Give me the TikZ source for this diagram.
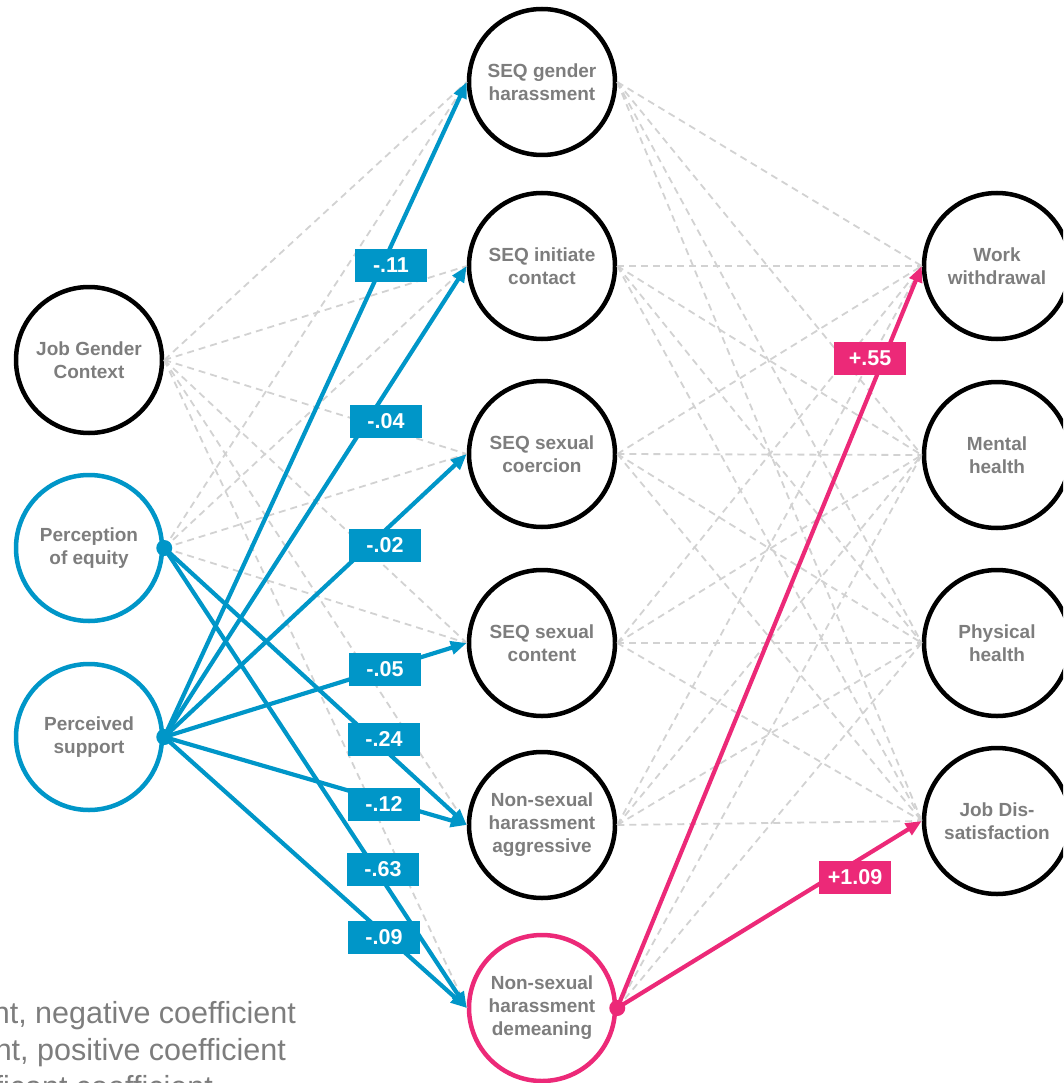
\documentclass[tikz,border=0pt]{standalone}
\usepackage{fontspec}
\setmainfont{Liberation Sans}
\usetikzlibrary{arrows.meta}

\definecolor{sigblue}{RGB}{0,150,200}
\definecolor{sigpink}{RGB}{236,41,120}
\definecolor{nsgray}{RGB}{210,210,210}
\definecolor{txtgray}{RGB}{125,125,125}

\tikzset{
	var/.style={circle,draw=black,line width=4.5pt,minimum size=146pt,inner sep=0pt,align=center,text=txtgray,font=\bfseries\fontsize{19}{23}\selectfont},
	ns/.style={draw=nsgray,line width=1.8pt,dash pattern=on 7pt off 5pt},
	negpath/.style={draw=sigblue,line width=4.2pt,->},
	pospath/.style={draw=sigpink,line width=4.2pt,->},
	coef/.style={fill=sigblue,text=white,font=\bfseries\fontsize{21.5}{21.5}\selectfont,minimum width=72pt,minimum height=33pt,inner sep=0pt},
	legend/.style={text=txtgray,font=\fontsize{30.5}{36}\selectfont,inner sep=0pt},
}

\begin{document}
\begin{tikzpicture}[x=1pt,y=-1pt,>={Triangle[length=16pt,width=13pt]},line join=round]
			\useasboundingbox (0,0) rectangle (1063,1083);
			\clip (0,0) rectangle (1063,1083);
			
			% predictors
			\node[var] (jgc) at (89,360) {Job Gender\\Context};
			\node[var,draw=sigblue] (peq) at (89,548) {Perception\\of equity};
			\node[var,draw=sigblue] (psup) at (89,737) {Perceived\\support};
			
			% harassment
			\node[var] (seqgh) at (542,82) {SEQ gender\\harassment};
			\node[var] (seqic) at (542,266) {SEQ initiate\\contact};
			\node[var] (seqsc) at (542,454) {SEQ sexual\\coercion};
			\node[var] (seqcon) at (542,643) {SEQ sexual\\content};
			\node[var] (nsagg) at (542,825) {Non-sexual\\harassment\\aggressive};
			\node[var,draw=sigpink] (nsdem) at (542,1008) {Non-sexual\\harassment\\demeaning};
			
			% outcomes
			\node[var] (work) at (997,266) {Work\\withdrawal};
			\node[var] (mental) at (997,455) {Mental\\health};
			\node[var] (physical) at (997,643) {Physical\\health};
			\node[var] (jobdis) at (997,821) {Job Dis-\\satisfaction};
			
			% non-significant paths
			\foreach \m in {seqgh,seqic,seqsc,seqcon,nsagg,nsdem}
				\draw[ns] (jgc.east)--(\m.west);
			\foreach \m in {seqgh,seqic,seqsc,seqcon}
				\draw[ns] (peq.east)--(\m.west);
			\foreach \m in {seqgh,seqic,seqsc,seqcon,nsagg}
				\foreach \o in {work,mental,physical,jobdis}
					\draw[ns] (\m.east)--(\o.west);
			\foreach \o in {mental,physical}
				\draw[ns] (nsdem.east)--(\o.west);
			
			% significant paths
			\foreach \m in {seqgh,seqic,seqsc,seqcon,nsagg,nsdem}
				\draw[negpath] (psup.east)--(\m.west);
			\draw[negpath] (peq.east)--(nsagg.west);
			\draw[negpath] (peq.east)--(nsdem.west);
			\draw[pospath] (nsdem.east)--(work.west);
			\draw[pospath] (nsdem.east)--(jobdis.west);
			
			\fill[sigblue] (peq.east) circle (8pt) (psup.east) circle (8pt);
			\fill[sigpink] (nsdem.east) circle (8pt);
			
			% coefficients
			\node[coef] (c11) at (391,265) {-.11};
			\node[coef] (c04) at (386,421) {-.04};
			\node[coef] (c02) at (385,545) {-.02};
			\node[coef] (c05) at (385,669) {-.05};
			\node[coef] (c24) at (384,739) {-.24};
			\node[coef] (c12) at (384,804) {-.12};
			\node[coef] (c63) at (383,869) {-.63};
			\node[coef] (c09) at (384,937) {-.09};
			\node[coef,fill=sigpink] (c55) at (870,358) {+.55};
			\node[coef,fill=sigpink] (c109) at (855,877) {+1.09};
			
			% legend
			\node[legend,anchor=base east] (legneg) at (296,1023) {nt, negative coefficient};
			\node[legend,anchor=base east] (legpos) at (286,1060) {nt, positive coefficient};
			\node[legend,anchor=base east] (legns) at (213,1097) {ficant coefficient};
\end{tikzpicture}
\end{document}
